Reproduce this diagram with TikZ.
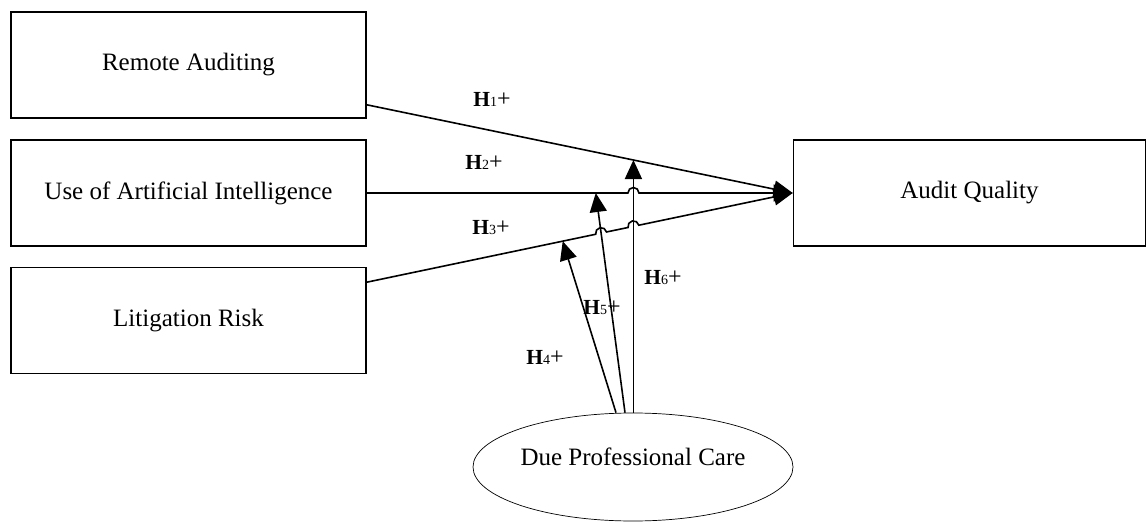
\documentclass[tikz,border=0pt]{standalone}
\usepackage{fontspec}
\setmainfont{Liberation Serif}
\usetikzlibrary{arrows.meta,shapes.geometric,calc,intersections}
\newcommand{\hyp}[1]{\textbf{H}{\fontsize{14}{14}\selectfont #1}{\fontsize{24}{24}\selectfont +}}
\begin{document}
\begin{tikzpicture}[x=1pt,y=1pt,
  box/.style={draw, line width=1.6pt, minimum width=355pt, minimum height=106pt, inner sep=0pt, font=\fontsize{25}{30}\selectfont},
  conn/.style={line width=1.6pt},
  arr/.style={conn, -{Triangle[length=19pt,width=17pt]}},
  hlab/.style={font=\fontsize{21.5}{24}\selectfont, inner sep=0pt},
  txt/.style={font=\fontsize{25}{30}\selectfont, inner sep=0pt}]
\useasboundingbox (0,0) rectangle (1147,522);
% nodes
\node[box] (ra) at (188.5,457) {Remote Auditing};
\node[box] (ai) at (188.5,329) {Use of Artificial Intelligence};
\node[box] (lr) at (188.5,201.5) {Litigation Risk};
\node[box, minimum width=352pt] (aq) at (969.5,329) {Audit Quality};
\node[draw, ellipse, line width=0.7pt, minimum width=320pt, minimum height=108pt, inner sep=0pt] (dpc) at (633,55) {};
\node[txt] (dpctext) at ($(dpc.center)+(0,10)$) {Due Professional Care};
% connector end points
\coordinate (raout) at ($(ra.south east)+(0,14)$);
\coordinate (lrout) at ($(lr.north east)+(0,-15.5)$);
\coordinate (t4) at ($(lrout)!0.460!(aq.west)$);
\coordinate (t5) at ($(ai.east)!0.5376!(aq.west)$);
\coordinate (t6) at ($(raout)!0.626!(aq.west)$);
\coordinate (m4) at ($(dpc.north)+(-17,0)$);
\coordinate (m5) at ($(dpc.north)+(-8,0)$);
\coordinate (m6) at (dpc.north -| t6);
% crossings
\path[name path=lrp] (lrout) -- (aq.west);
\path[name path=aip] (ai.east) -- (aq.west);
\path[name path=h5p] (m5) -- (t5);
\path[name path=h6p] (m6) -- (t6);
\path[name intersections={of=lrp and h5p, by=x5}];
\path[name intersections={of=lrp and h6p, by=x6}];
\path[name intersections={of=aip and h6p, by=y6}];
% main connectors
\draw[arr] (raout) -- (aq.west);
\draw[arr] (ai.east) -- ($(y6)+(-5.5,0)$) arc[start angle=180, end angle=0, radius=5.5pt] -- (aq.west);
\draw[arr] (lrout) -- ($(x5)!5.5pt!(lrout)$) arc[start angle=191.9, end angle=11.9, radius=5.5pt]
  -- ($(x6)!5.5pt!(lrout)$) arc[start angle=191.9, end angle=11.9, radius=5.5pt] -- (aq.west);
% moderating connectors
\draw[arr] (m4) -- (t4);
\draw[arr] (m5) -- (t5);
\draw[arr] (m6) -- (t6);
% labels
\node[hlab] (l1) at (492,423) {\hyp{1}};
\node[hlab] (l2) at (484,360) {\hyp{2}};
\node[hlab] (l3) at (491,294) {\hyp{3}};
\node[hlab] (l4) at (545,165) {\hyp{4}};
\node[hlab] (l5) at (602,214) {\hyp{5}};
\node[hlab] (l6) at (663,244) {\hyp{6}};
\end{tikzpicture}
\end{document}
